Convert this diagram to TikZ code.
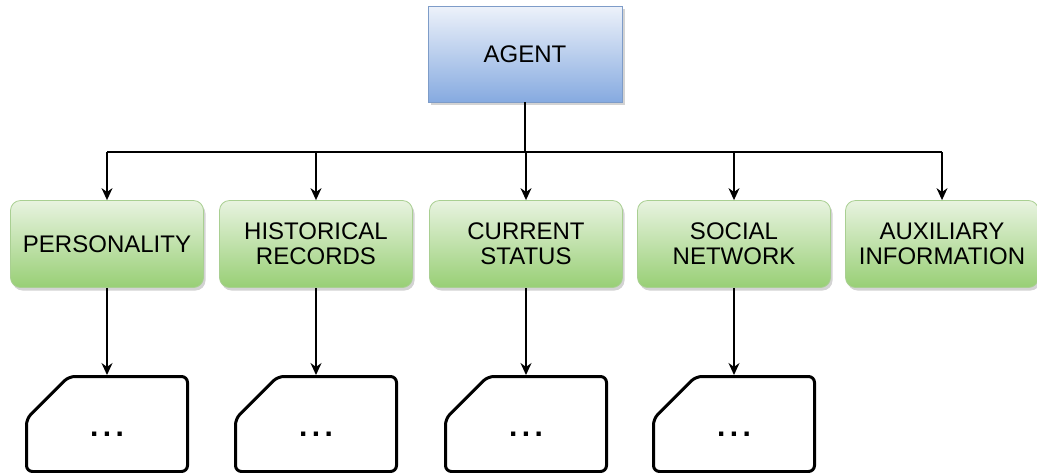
\documentclass[tikz,border=0pt]{standalone}
\usepackage{fontspec}
\setmainfont{Liberation Sans}
\usetikzlibrary{arrows.meta,shapes.misc,shadows}

\definecolor{agenttop}{HTML}{EDF2FA}
\definecolor{agentbot}{HTML}{86AAE0}
\definecolor{agentline}{HTML}{7E9CC8}
\definecolor{parttop}{HTML}{E8F3E0}
\definecolor{partbot}{HTML}{98CF75}
\definecolor{partline}{HTML}{A9CF92}

\tikzset{
  agentbox/.style={rectangle, draw=agentline, top color=agenttop, bottom color=agentbot,
    minimum width=97pt, minimum height=48pt,
    drop shadow={shadow xshift=1.5pt, shadow yshift=-1.5pt, opacity=0.35, fill=gray}},
  partbox/.style={rectangle, rounded corners=5pt, draw=partline, top color=parttop,
    bottom color=partbot, align=center, minimum width=96.5pt, minimum height=43.5pt,
    drop shadow={shadow xshift=1pt, shadow yshift=-1.5pt, opacity=0.35, fill=gray}},
  cardbox/.style={chamfered rectangle, chamfered rectangle corners=north west,
    chamfered rectangle xsep=15.5pt, chamfered rectangle ysep=16pt, draw,
    line width=1.5pt, rounded corners=3pt, minimum width=80.5pt, minimum height=47.5pt,
    text height=12pt, text depth=0pt, font=\fontsize{15}{15}\selectfont\bfseries},
  link/.style={-{Stealth[length=6pt,width=5.5pt]}, line width=0.7pt},
}
\newcommand{\moredots}{.\hspace{2.2pt}.\hspace{2.2pt}.}

\begin{document}
\begin{tikzpicture}[x=0.5pt, y=-0.5pt, font=\fontsize{12}{12.5}\selectfont]
  \useasboundingbox (0,0) rectangle (1037,472);

  \node[agentbox] (agent) at (525,54) {AGENT};
  \coordinate (bus) at (525,152);

  \node[partbox] (pers) at (107,244) {PERSONALITY};
  \node[partbox] (hist) at (316,244) {HISTORICAL\\RECORDS};
  \node[partbox] (curr) at (526,244) {CURRENT\\STATUS};
  \node[partbox] (soc)  at (734,244) {SOCIAL\\NETWORK};
  \node[partbox] (aux)  at (942,244) {AUXILIARY\\INFORMATION};

  \node[cardbox] (persmore) at (107,424) {\moredots};
  \node[cardbox] (histmore) at (316,424) {\moredots};
  \node[cardbox] (currmore) at (526,424) {\moredots};
  \node[cardbox] (socmore)  at (734,424) {\moredots};

  \draw[line width=0.7pt] (agent.south) -- (bus);
  \draw[line width=0.7pt] (pers.north |- bus) -- (aux.north |- bus);
  \foreach \n in {pers,hist,curr,soc,aux}
    \draw[link] (\n.north |- bus) -- (\n.north);
  \foreach \n in {pers,hist,curr,soc}
    \draw[link] (\n.south) -- (\n more.north);
\end{tikzpicture}
\end{document}
